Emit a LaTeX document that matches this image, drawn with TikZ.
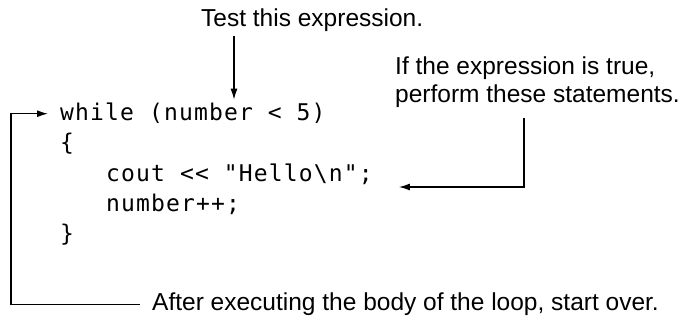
\documentclass[tikz,border=0pt]{standalone}
\usepackage{fontspec}
\setmainfont{Liberation Sans}
\newfontfamily\codefont{DejaVu Sans Mono}[LetterSpace=5]
\usetikzlibrary{arrows.meta}

\begin{document}
\begin{tikzpicture}[x=1pt, y=-1pt,
  note/.style={inner sep=4pt, align=left, font=\fontsize{24.5}{28}\selectfont},
  code/.style={inner xsep=12pt, inner ysep=3.5pt, anchor=base west, font=\codefont\fontsize{23}{30}\selectfont},
  arr/.style={-{Latex[length=11pt,width=7pt]}, line width=1.3pt}]

  \useasboundingbox (0,0) rectangle (686,320);

  % the loop
  \node[code] (while) at (48,121) {while (number < 5)};
  \node[code] (open)  at (48,151) {\{};
  \node[code] (cout)  at (94,182) {cout << "Hello\textbackslash n";};
  \node[code] (incr)  at (94,212) {number++;};
  \node[code] (close) at (48,242) {\}};

  % notes
  \node[note, anchor=base west] (test) at (197,27) {Test this expression.};
  \node[note, anchor=north west] (stmts) at (391,53) {If the expression is true,\\perform these statements.};
  \node[note, anchor=base west, inner xsep=12pt] (after) at (140,311) {After executing the body of the loop, start over.};

  \coordinate (tip)  at (234,0);
  \coordinate (turn) at (524,187);
  \coordinate (back) at (11,0);

  % connectors
  \draw[arr] (test.south -| tip) -- (while.north -| tip);
  \draw[arr] ([yshift=-6pt]stmts.south -| turn) -- (turn) -- ([xshift=14pt]turn -| cout.east);
  \draw[arr] (after.west) -- (after.west -| back) -- (while.west -| back) -- (while.west);
\end{tikzpicture}
\end{document}
